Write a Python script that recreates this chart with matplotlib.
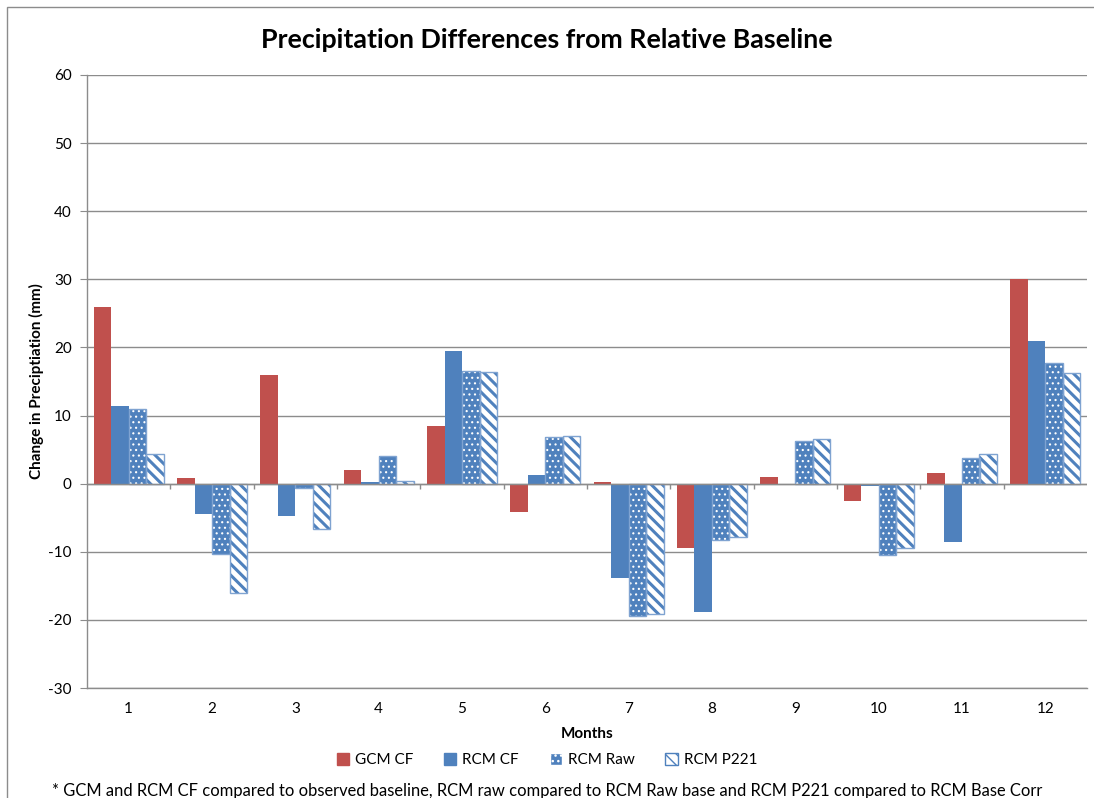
import numpy as np
import matplotlib
matplotlib.use("Agg")
import matplotlib.pyplot as plt
from matplotlib.patches import Rectangle, Patch

plt.rcParams['font.family'] = ['Lato', 'DejaVu Sans']
plt.rcParams['axes.unicode_minus'] = False

months = ['1', '2', '3', '4', '5', '6', '7', '8', '9', '10', '11', '12']
gcm_cf = [26.0, 0.9, 16.0, 2.0, 8.5, -4.2, 0.3, -9.5, 1.0, -2.5, 1.5, 30.0]
rcm_cf = [11.4, -4.5, -4.7, 0.2, 19.5, 1.3, -13.8, -18.9, 0.0, -0.4, -8.5, 21.0]
rcm_raw = [11.0, -10.3, -0.6, 4.0, 16.6, 6.8, -19.4, -8.2, 6.3, -10.5, 3.8, 17.7]
rcm_p221 = [4.3, -16.0, -6.7, 0.4, 16.4, 7.0, -19.2, -7.9, 6.6, -9.4, 4.4, 16.3]
series_names = ['GCM CF', 'RCM CF', 'RCM Raw', 'RCM P221']

red = '#C0504D'
blue = '#4F81BD'

fig = plt.figure(figsize=(10.94, 7.98), dpi=100)
ax = fig.add_axes([87 / 1094, 110 / 798, 1000 / 1094, 613 / 798])

x = np.arange(len(months))
w = 0.21
offs = np.array([-1.5, -0.5, 0.5, 1.5]) * w

# solid bars
ax.bar(x + offs[0], gcm_cf, w, color=red, zorder=3)
ax.bar(x + offs[1], rcm_cf, w, color=blue, zorder=3)

# RCM Raw: blue with white dots
with plt.rc_context({'hatch.linewidth': 0.8}):
    ax.bar(x + offs[2], rcm_raw, w, facecolor=blue, edgecolor='white',
           hatch='...', linewidth=0, zorder=3)
ax.bar(x + offs[2], rcm_raw, w, fill=False, edgecolor='#7FA3D1',
       linewidth=1.0, zorder=4)

# RCM P221: white with blue diagonal stripes
with plt.rc_context({'hatch.linewidth': 2.2}):
    ax.bar(x + offs[3], rcm_p221, w, facecolor='white', edgecolor=blue,
           hatch='\\\\\\', linewidth=0, zorder=3)
ax.bar(x + offs[3], rcm_p221, w, fill=False, edgecolor='#7FA3D1',
       linewidth=1.0, zorder=4)

ax.set_xlim(-0.5, len(months) - 0.5)
ax.set_ylim(-30, 60)
ax.set_yticks(np.arange(-30, 61, 10))
ax.yaxis.grid(True, color='#8C8C8C', linewidth=1.0, zorder=0)
ax.set_axisbelow(True)

for s in ['top', 'right']:
    ax.spines[s].set_visible(False)
for s in ['left', 'bottom']:
    ax.spines[s].set_color('#8C8C8C')
    ax.spines[s].set_linewidth(1.0)

ax.tick_params(axis='y', length=5, color='#8C8C8C', labelsize=11, pad=6)
ax.set_xticks(x)
ax.set_xticklabels(months)
ax.tick_params(axis='x', length=0, labelsize=11, pad=10)

# horizontal axis at zero with tick marks between groups
ax.axhline(0, color='#8C8C8C', linewidth=1.0, zorder=5)
ax.vlines(np.arange(0.5, len(months) - 0.5, 1.0), -0.75, 0,
          color='#8C8C8C', linewidth=1.0, zorder=5)

ax.set_xlabel('Months', fontsize=11, fontweight='bold', labelpad=8)
ax.set_ylabel('Change in Preciptiation (mm)', fontsize=11, fontweight='bold', labelpad=3)

fig.text(0.5, 1 - 40 / 798, 'Precipitation Differences from Relative Baseline',
         ha='center', va='center', fontsize=19.3, fontweight='bold')

handles = [
    Patch(facecolor=red, edgecolor=red),
    Patch(facecolor=blue, edgecolor=blue),
    Patch(facecolor=blue, edgecolor='white', hatch='...'),
    Patch(facecolor='white', edgecolor=blue, hatch='\\\\\\'),
]
fig.legend(handles, series_names, loc='center', ncol=4,
           bbox_to_anchor=(0.5, 1 - 760 / 798), frameon=False, fontsize=11,
           handlelength=0.8, handleheight=0.8, columnspacing=2.0, handletextpad=0.4)

fig.text(0.5, 1 - 791 / 798,
         '* GCM and RCM CF compared to observed baseline, RCM raw compared to RCM Raw base and RCM P221 compared to RCM Base Corr',
         ha='center', va='center', fontsize=11.9)

# outer chart border
fig.patches.append(Rectangle((7 / 1094, -0.1), 1.2, 1.1 - 7 / 798,
                             transform=fig.transFigure, fill=False,
                             edgecolor='#8C8C8C', linewidth=1.0))

fig.savefig('out.png', dpi=100)
